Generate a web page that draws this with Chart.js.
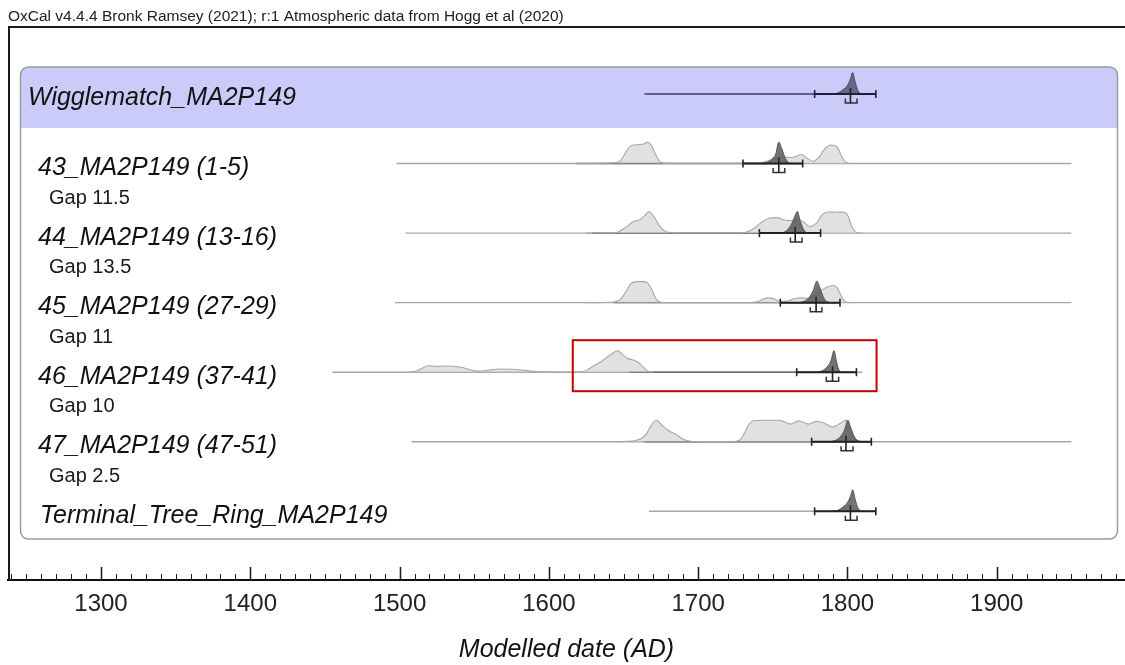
<!DOCTYPE html>
<html>
<head>
<meta charset="utf-8">
<script src="https://cdn.jsdelivr.net/npm/chart.js@4.4.1/dist/chart.umd.min.js"></script>
<style>
  html, body { margin: 0; padding: 0; background: #fff; }
  canvas { display: block; }
</style>
</head>
<body>
<canvas id="multiplot" width="1125" height="665"></canvas>
<script>
// OxCal multiplot: wiggle-match of MA2P149

const headerText = 'OxCal v4.4.4 Bronk Ramsey (2021); r:1 Atmospheric data from Hogg et al (2020)';

const rowNames = [
    'Wigglematch_MA2P149',
    '43_MA2P149 (1-5)',
    '44_MA2P149 (13-16)',
    '45_MA2P149 (27-29)',
    '46_MA2P149 (37-41)',
    '47_MA2P149 (47-51)',
    'Terminal_Tree_Ring_MA2P149'
];

// gaps (rings) between consecutive samples, shown under rows 1..5
const gaps = [11.5, 13.5, 11, 10, 2.5];

// extent of each row's baseline and of its modelled part (cal AD)
const spanFrom = [1664, 1498, 1504, 1497, 1455, 1508, 1667];
const spanTo = [1819, 1950, 1950, 1950, 1810, 1950, 1819];
const postFrom = [1664, 1618, 1629, 1643, 1654, 1664, null];

// 95.4% ranges, means and the sigma bracket
const rangeLo = [1778, 1730, 1741, 1755, 1766, 1776, 1778];
const rangeHi = [1819, 1770, 1782, 1795, 1806, 1816, 1819];
const means = [1802, 1754, 1765, 1779, 1790, 1799, 1802];
const sigmaLo = [1798.6, 1750.2, 1761.8, 1775.1, 1785.8, 1795.7, 1798.6];
const sigmaHi = [1806.4, 1758, 1769.6, 1782.9, 1794.1, 1803.7, 1806.4];

// unmodelled likelihoods [year, relative density %]
const like43 = [[1615,0],[1630,1],[1642,3],[1647,8],[1650,35],[1653,70],[1656,85],[1660,88],[1664,92],[1666,100],[1669,80],[1672,35],[1675,5],[1680,1],[1700,0.5],[1735,1],[1742,4],[1748,15],[1753,28],[1757,33],[1761,28],[1765,32],[1769,42],[1773,25],[1777,10],[1781,30],[1785,70],[1789,86],[1793,78],[1796,35],[1799,5],[1803,0]];
const like44 = [[1625,0],[1640,1],[1646,4],[1650,20],[1653,35],[1657,55],[1661,62],[1664,80],[1667,100],[1670,80],[1674,35],[1678,8],[1683,2],[1690,0.5],[1725,0.5],[1732,4],[1737,20],[1742,48],[1748,70],[1753,72],[1757,62],[1761,58],[1765,62],[1770,55],[1775,30],[1779,45],[1783,85],[1787,98],[1792,97],[1797,98],[1800,85],[1803,30],[1806,3],[1810,0]];
const like45 = [[1625,0],[1638,1],[1644,4],[1648,15],[1652,55],[1655,90],[1659,98],[1663,98],[1666,92],[1669,60],[1672,15],[1675,2],[1680,0.5],[1735,0.5],[1741,8],[1746,22],[1750,20],[1754,8],[1759,6],[1764,18],[1769,22],[1773,20],[1777,30],[1782,55],[1786,72],[1790,80],[1793,70],[1796,30],[1799,3],[1803,0]];
const like46 = [[1505,0],[1510,3],[1515,18],[1519,30],[1525,27],[1530,29],[1536,28],[1542,22],[1548,10],[1553,5],[1560,10],[1567,15],[1575,14],[1582,10],[1590,4],[1600,1.5],[1615,0.5],[1622,2],[1626,12],[1630,30],[1634,45],[1638,65],[1642,85],[1646,100],[1649,85],[1652,66],[1656,58],[1660,45],[1663,25],[1666,6],[1670,0]];
const like47 = [[1645,0],[1652,2],[1658,6],[1663,20],[1666,45],[1669,80],[1672,100],[1676,75],[1680,52],[1685,35],[1690,12],[1695,2],[1700,0.5],[1724,0.5],[1728,8],[1731,40],[1734,80],[1737,98],[1745,100],[1754,100],[1758,92],[1762,82],[1767,97],[1770,92],[1774,82],[1779,95],[1784,88],[1790,68],[1795,85],[1799,100],[1802,70],[1805,15],[1808,0]];

// modelled (posterior) distributions
const postWm = [[1790,0],[1794,6],[1797,20],[1800,40],[1802,70],[1803.5,100],[1805,60],[1807,15],[1809,0]];
const post43 = [[1743,0],[1747,8],[1750,25],[1752,45],[1754,100],[1756,70],[1758,30],[1760,8],[1762,0]];
const post44 = [[1756,0],[1759,10],[1762,35],[1764,65],[1766.5,100],[1768,65],[1770,25],[1772,5],[1774,0]];
const post45 = [[1768,0],[1772,10],[1775,30],[1777,55],[1779.5,100],[1781.5,70],[1783,40],[1785,12],[1788,0]];
const post46 = [[1780,0],[1784,10],[1787,30],[1789,55],[1791,100],[1792.5,55],[1794,15],[1796,0]];
const post47 = [[1789,0],[1793,10],[1796,30],[1798,55],[1800.3,100],[1802,65],[1804,30],[1806,10],[1809,0]];
const postTr = [[1790,0],[1794,6],[1797,20],[1800,40],[1802,70],[1803.5,100],[1805,60],[1807,15],[1809,0]];

const likelihoods = [null, like43, like44, like45, like46, like47, null];
const posteriors = [postWm, post43, post44, post45, post46, post47, postTr];

// highlighted row and its year span
const highlightRow = 4;
const highlightFrom = 1616;
const highlightTo = 1819.5;

// axis range (years)
const axisMin = 1237.7;
const axisMax = 1985.9;

// layout (y values are pixels, top = 27, bottom = 580)
const ROW0 = 94;
const ROW_STEP = 69.55;
const PEAK = 21.5;
const rowY = i => ROW0 + ROW_STEP * i;

function curve(points, base) {
    return points.map(p => ({ x: p[0], y: base - p[1] / 100 * PEAK }));
}

function buildDatasets() {
    const sets = [];
    rowNames.forEach((name, i) => {
        const base = rowY(i);
        const wm = i === 0;
        sets.push({
            data: [{ x: spanFrom[i], y: base }, { x: spanTo[i], y: base }],
            borderColor: wm ? '#3d3d66' : '#a6a6a6', borderWidth: wm ? 1.5 : 1.4,
            pointRadius: 0, order: 6
        });
        if (postFrom[i] !== null && !wm) {
            sets.push({
                data: [{ x: postFrom[i], y: base }, { x: rangeHi[i], y: base }],
                borderColor: '#6a6a6a', borderWidth: 1.4, pointRadius: 0, order: 5
            });
        }
        if (likelihoods[i]) {
            sets.push({
                data: curve(likelihoods[i], base),
                borderColor: '#a8a8a8', borderWidth: 1.1,
                backgroundColor: 'rgba(205,205,205,0.6)',
                fill: { value: base }, pointRadius: 0,
                cubicInterpolationMode: 'monotone', order: 4
            });
        }
        sets.push({
            data: curve(posteriors[i], base),
            borderColor: wm ? '#4b4b66' : '#555', borderWidth: 1,
            backgroundColor: wm ? 'rgba(70,70,95,0.75)' : 'rgba(80,80,80,0.8)',
            fill: { value: base }, pointRadius: 0,
            cubicInterpolationMode: 'monotone', order: 3
        });
        // 95.4% range bar with end ticks
        sets.push({
            data: [{ x: rangeLo[i], y: base }, { x: rangeHi[i], y: base }],
            borderColor: wm ? '#1e1e3c' : '#222', borderWidth: 2,
            pointStyle: 'line', rotation: 90, pointRadius: 4,
            pointBorderWidth: 1.6, pointBorderColor: wm ? '#1e1e3c' : '#222',
            order: 2
        });
        // mean cross and sigma bracket
        sets.push({
            data: [{ x: means[i], y: base - 6 }, { x: means[i], y: base + 9 }],
            borderColor: '#222', borderWidth: 1.6, pointRadius: 0, order: 1
        });
        sets.push({
            data: [
                { x: sigmaLo[i], y: base + 4.5 }, { x: sigmaLo[i], y: base + 9 },
                { x: sigmaHi[i], y: base + 9 }, { x: sigmaHi[i], y: base + 4.5 }
            ],
            borderColor: '#333', borderWidth: 1.5, pointRadius: 0, order: 1
        });
    });
    return sets;
}

function roundRect(ctx, x, y, w, h, r) {
    ctx.beginPath();
    ctx.moveTo(x + r, y);
    ctx.lineTo(x + w - r, y);
    ctx.arcTo(x + w, y, x + w, y + r, r);
    ctx.lineTo(x + w, y + h - r);
    ctx.arcTo(x + w, y + h, x + w - r, y + h, r);
    ctx.lineTo(x + r, y + h);
    ctx.arcTo(x, y + h, x, y + h - r, r);
    ctx.lineTo(x, y + r);
    ctx.arcTo(x, y, x + r, y, r);
    ctx.closePath();
}

const panels = {
    id: 'panels',
    beforeDatasetsDraw(chart) {
        const { ctx, chartArea: a, scales: { y } } = chart;
        const top = y.getPixelForValue(67);
        const bottom = y.getPixelForValue(539);
        const headBottom = y.getPixelForValue(128);
        ctx.save();
        // outer frame
        ctx.strokeStyle = '#1a1a1a';
        ctx.lineWidth = 2;
        ctx.beginPath();
        ctx.moveTo(a.left + 1, a.bottom);
        ctx.lineTo(a.left + 1, a.top);
        ctx.lineTo(a.right, a.top);
        ctx.stroke();
        // group box with shaded header
        roundRect(ctx, 20.5, top, 1097, bottom - top, 8);
        ctx.fillStyle = '#fff';
        ctx.fill();
        ctx.save();
        ctx.clip();
        ctx.fillStyle = '#cbcbf9';
        ctx.fillRect(20, top, 1100, headBottom - top);
        ctx.restore();
        roundRect(ctx, 20.5, top, 1097, bottom - top, 8);
        ctx.strokeStyle = '#9c9c9c';
        ctx.lineWidth = 1.5;
        ctx.stroke();
        ctx.restore();
    },
    afterDatasetsDraw(chart) {
        const { ctx, scales: { x, y } } = chart;
        ctx.save();
        ctx.textBaseline = 'middle';
        ctx.fillStyle = '#111';
        ctx.font = 'italic 25px "Liberation Sans", Arial, sans-serif';
        rowNames.forEach((name, i) => {
            const base = y.getPixelForValue(rowY(i));
            ctx.fillText(name, i === 0 ? 28 : (i === 6 ? 40 : 38), base + 4.5);
        });
        ctx.font = '20px "Liberation Sans", Arial, sans-serif';
        ctx.fillStyle = '#1a1a1a';
        gaps.forEach((g, k) => {
            ctx.fillText('Gap ' + g, 49, y.getPixelForValue(rowY(k + 1) + 34.5));
        });
        // highlight around one row
        const hb = rowY(highlightRow);
        ctx.strokeStyle = '#c40000';
        ctx.lineWidth = 2;
        const x0 = x.getPixelForValue(highlightFrom);
        const x1 = x.getPixelForValue(highlightTo);
        const y0 = y.getPixelForValue(hb - 32);
        const y1 = y.getPixelForValue(hb + 19);
        ctx.strokeRect(x0, y0, x1 - x0, y1 - y0);
        // header line
        ctx.font = '15.5px "Liberation Sans", Arial, sans-serif';
        ctx.fillStyle = '#222';
        ctx.fillText(headerText, 8, 17);
        ctx.restore();
    },
    afterDraw(chart) {
        // decade ticks pointing up from the axis
        const { ctx, chartArea: a, scales: { x } } = chart;
        ctx.save();
        ctx.strokeStyle = '#222';
        for (let yr = 1240; yr <= 1980; yr += 10) {
            const px = Math.round(x.getPixelForValue(yr)) + 0.5;
            const major = yr % 100 === 0;
            ctx.lineWidth = major ? 1.6 : 1;
            ctx.beginPath();
            ctx.moveTo(px, a.bottom);
            ctx.lineTo(px, a.bottom - (major ? 13 : 6));
            ctx.stroke();
        }
        ctx.restore();
    }
};

new Chart(document.getElementById('multiplot'), {
    type: 'line',
    data: { datasets: buildDatasets() },
    plugins: [panels],
    options: {
        responsive: false,
        devicePixelRatio: 1,
        animation: false,
        events: [],
        layout: { autoPadding: false, padding: { left: 8, right: 0, top: 27, bottom: 0 } },
        plugins: {
            legend: { display: false },
            tooltip: { enabled: false }
        },
        scales: {
            x: {
                type: 'linear',
                min: axisMin,
                max: axisMax,
                afterFit: s => {
                    s.height = 85;
                    s.paddingLeft = 0;
                    s.paddingRight = 0;
                },
                grid: { display: true, drawOnChartArea: false, drawTicks: false },
                border: { display: true, color: '#111', width: 2 },
                ticks: {
                    stepSize: 100,
                    includeBounds: false,
                    padding: 10,
                    color: '#222',
                    font: { family: '"Liberation Sans", Arial, sans-serif', size: 24 },
                    callback: v => String(v)
                },
                title: {
                    display: true,
                    text: 'Modelled date (AD)',
                    color: '#111',
                    padding: { top: 16, bottom: 0 },
                    font: { family: '"Liberation Sans", Arial, sans-serif', size: 25, style: 'italic' }
                }
            },
            y: {
                type: 'linear',
                display: false,
                reverse: true,
                min: 27,
                max: 580
            }
        }
    }
});
</script>
</body>
</html>
